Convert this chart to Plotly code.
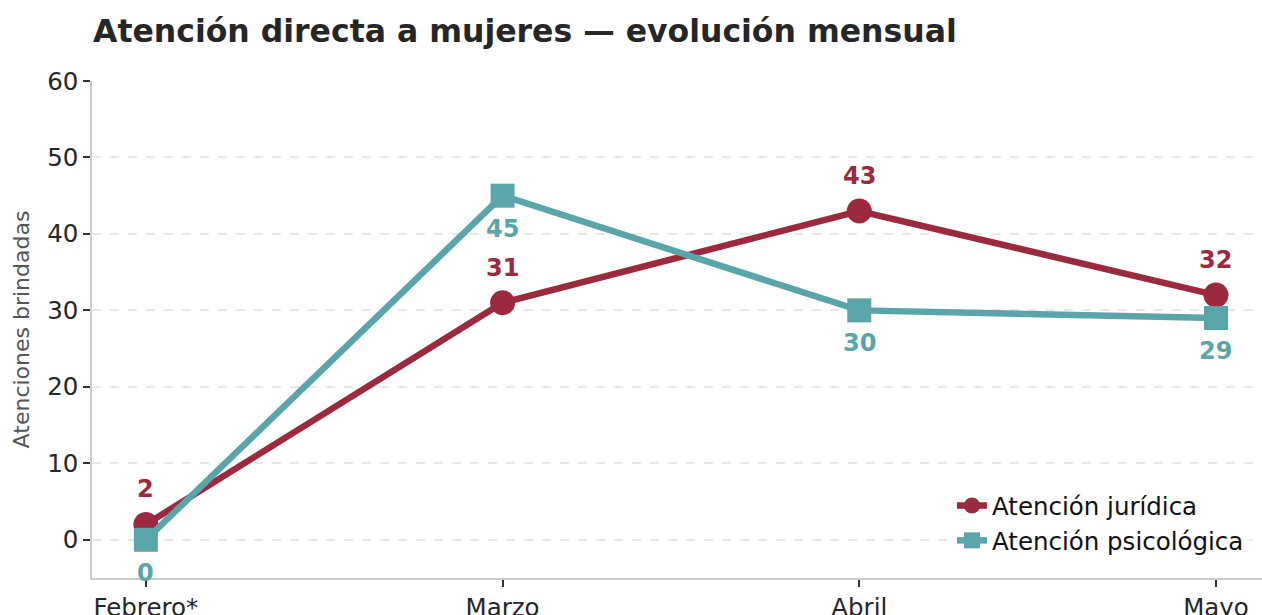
import plotly.graph_objects as go

months = ["Febrero*", "Marzo", "Abril", "Mayo"]
juridica = [2, 31, 43, 32]
psicologica = [0, 45, 30, 29]
yticks = [0, 10, 20, 30, 40, 50, 60]

RED = "#9b2a3f"
TEAL = "#5aa5a9"
FONT = "DejaVu Sans"

fig = go.Figure()
fig.add_trace(go.Scatter(
    x=list(range(len(months))), y=juridica, name="Atención jurídica",
    mode="lines+markers",
    line=dict(color=RED, width=6.5),
    marker=dict(symbol="circle", size=25, color=RED),
))
fig.add_trace(go.Scatter(
    x=list(range(len(months))), y=psicologica, name="Atención psicológica",
    mode="lines+markers",
    line=dict(color=TEAL, width=6.5),
    marker=dict(symbol="square", size=24, color=TEAL),
))

for i, v in enumerate(juridica):
    fig.add_annotation(x=i, y=v, text=f"<b>{v}</b>", showarrow=False,
                       yshift=35, font=dict(family=FONT, size=24, color=RED))
for i, v in enumerate(psicologica):
    fig.add_annotation(x=i, y=v, text=f"<b>{v}</b>", showarrow=False,
                       yshift=-33, font=dict(family=FONT, size=24, color=TEAL))

fig.update_layout(
    width=1262, height=615,
    margin=dict(l=92, r=0, t=81, b=37, autoexpand=False),
    paper_bgcolor="white", plot_bgcolor="white",
    font=dict(family=FONT, size=24, color="#262626"),
    title=dict(text="<b>Atención directa a mujeres — evolución mensual</b>",
               x=93 / 1262, xanchor="left", y=1 - 31 / 615, yanchor="middle",
               font=dict(family=FONT, size=31.5, color="#262626")),
    showlegend=True,
    legend=dict(x=0.735, y=0.03, xanchor="left", yanchor="bottom",
                bgcolor="rgba(255,255,255,0.8)", font=dict(family=FONT, size=24.5, color="#111"),
                tracegroupgap=0, itemsizing="trace"),
)
fig.update_xaxes(
    range=[-0.151, 3.129], automargin=False,
    tickmode="array", tickvals=list(range(len(months))), ticktext=months,
    showgrid=False, zeroline=False,
    showline=True, linecolor="#cccccc", linewidth=1.5,
    ticks="outside", ticklen=7, tickcolor="#333333", tickwidth=1.5,
    tickfont=dict(family=FONT, size=24.5, color="#262626"),
)
fig.update_yaxes(
    range=[-5, 60], automargin=False,
    tickmode="array", tickvals=yticks,
    showgrid=True, gridcolor="#e8e8e8", griddash="dash", gridwidth=1.5,
    zeroline=False,
    showline=True, linecolor="#cccccc", linewidth=1.5,
    ticks="outside", ticklen=7, tickcolor="#333333", tickwidth=1.5,
    tickfont=dict(family=FONT, size=24.5, color="#262626"),
    title=dict(text="Atenciones brindadas", standoff=11,
               font=dict(family=FONT, size=22, color="#555555")),
)

fig.write_html(
    "out.html",
    config={"displayModeBar": False},
    post_script="document.body.style.margin='0';document.body.style.overflow='hidden';",
)
